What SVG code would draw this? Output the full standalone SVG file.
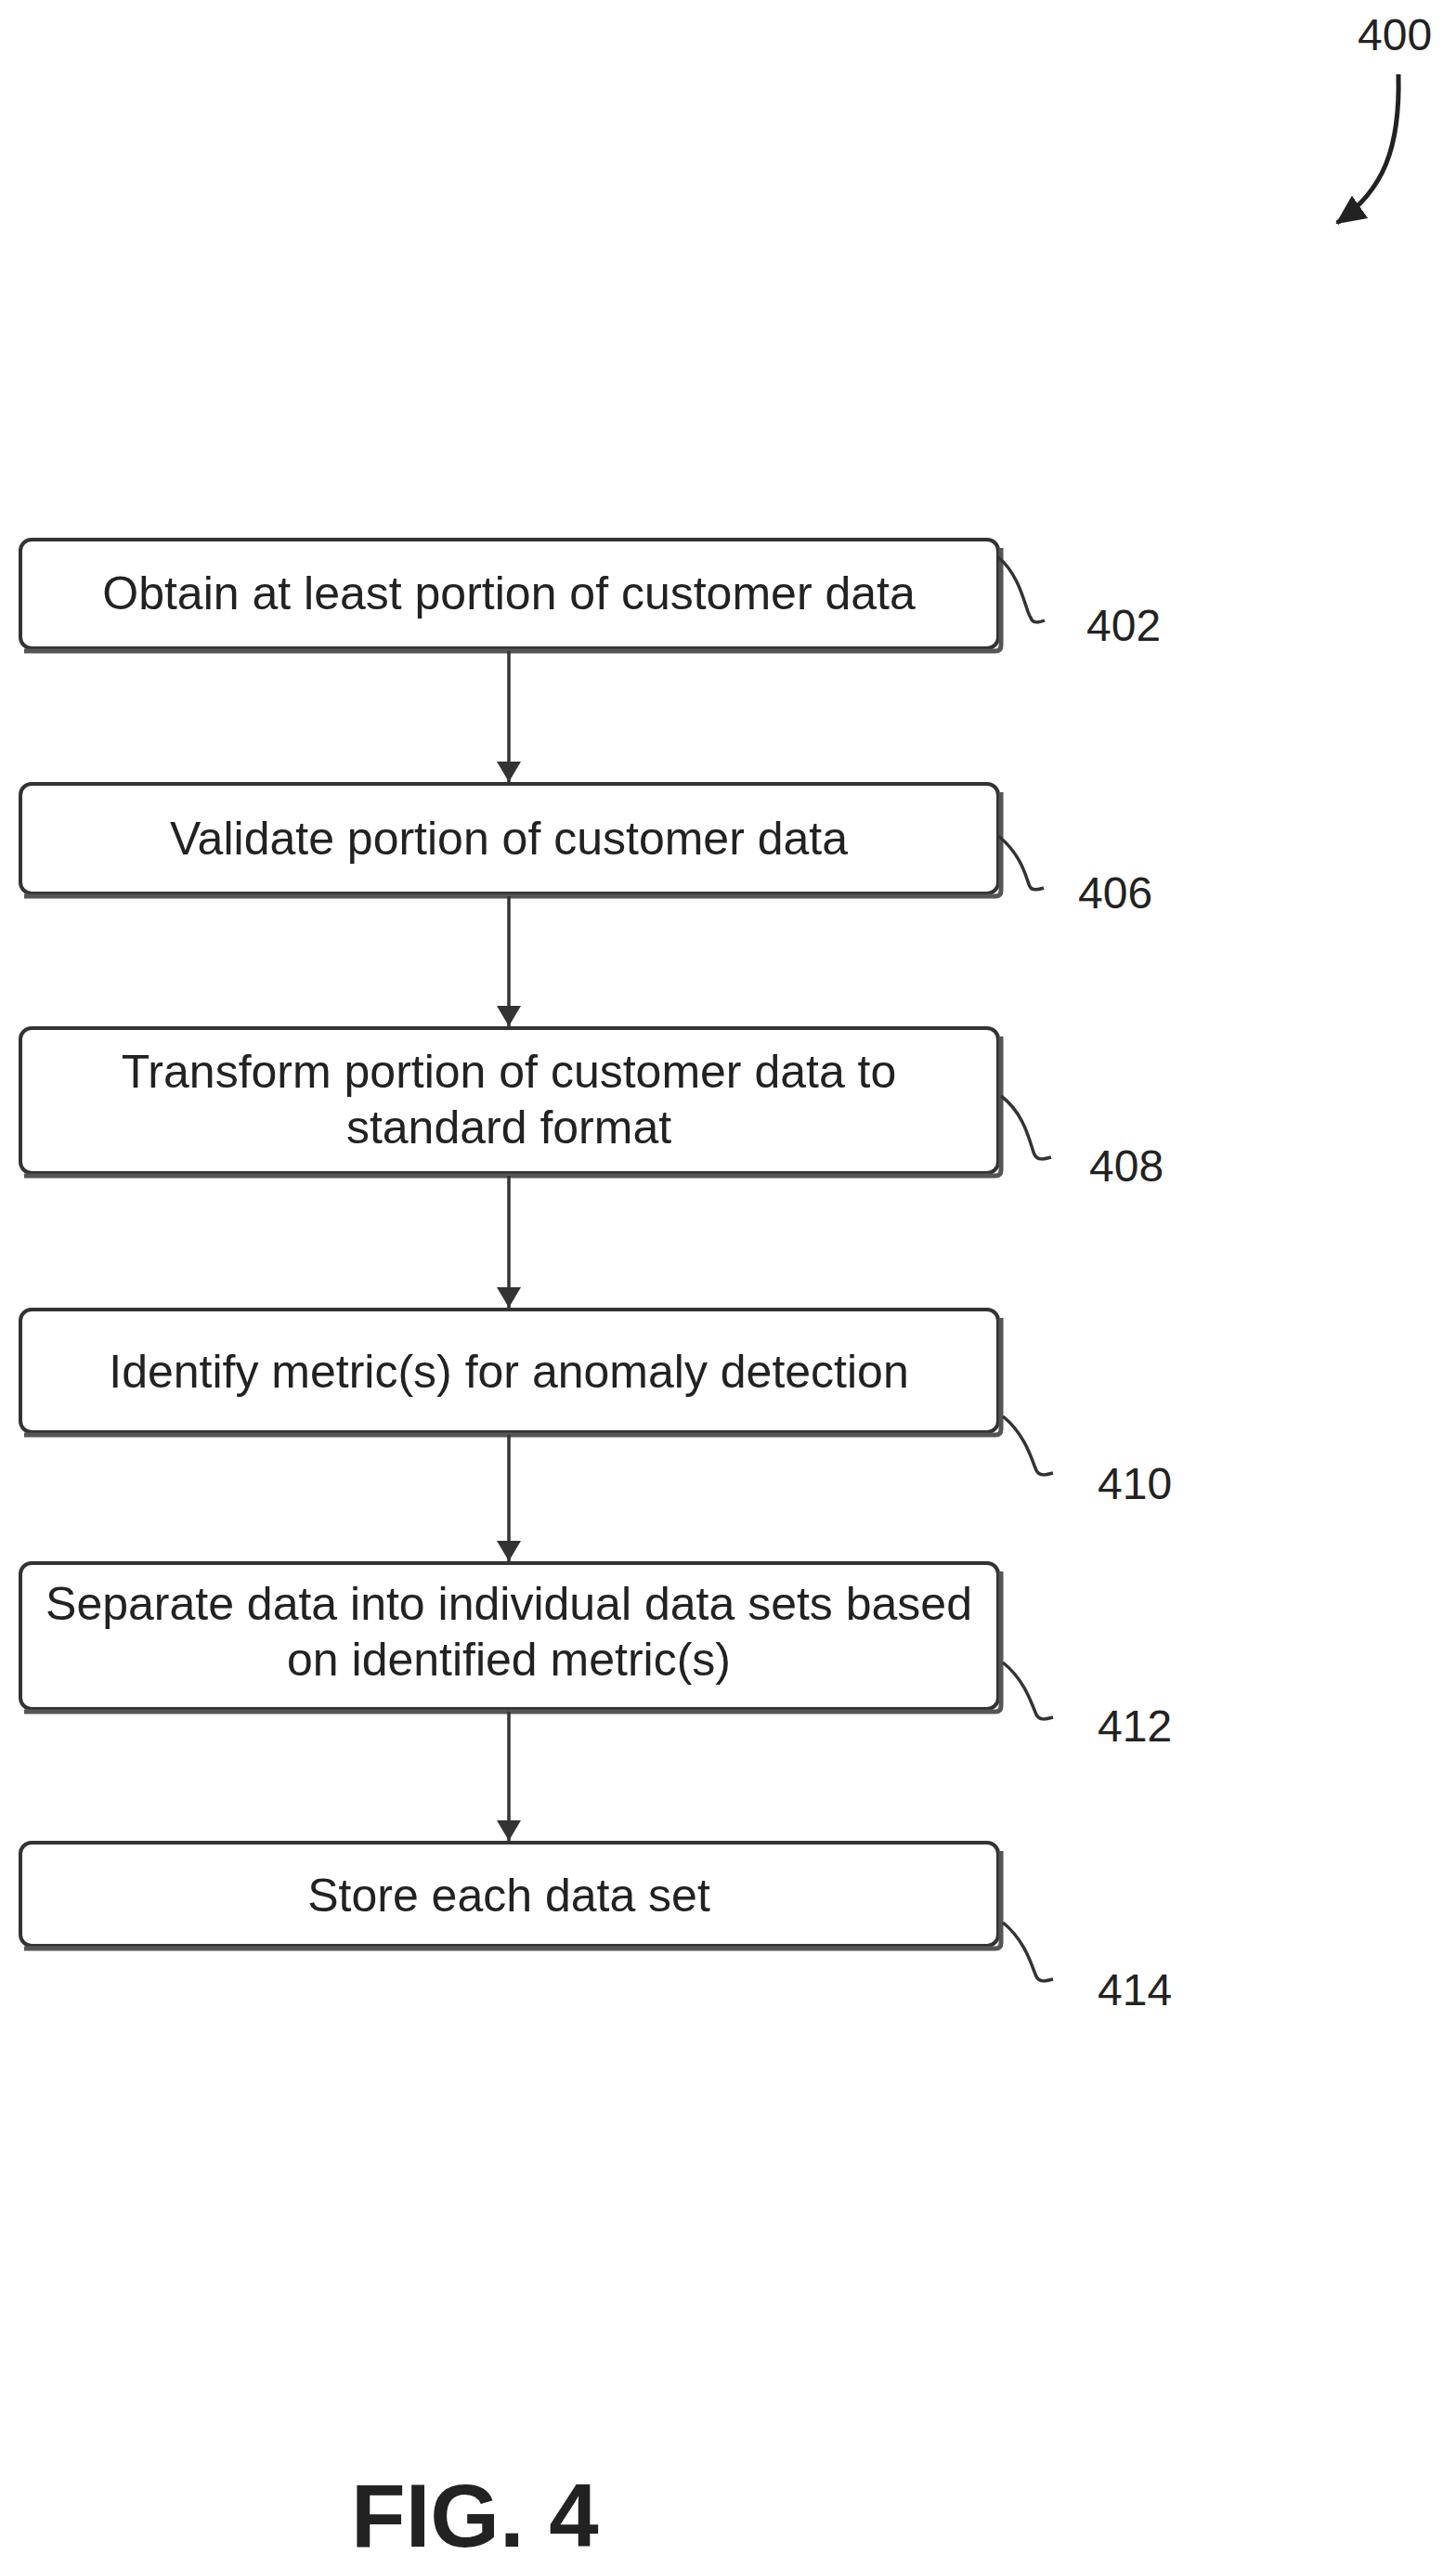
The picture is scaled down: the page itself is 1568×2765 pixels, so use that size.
<svg xmlns="http://www.w3.org/2000/svg" width="1568" height="2765" viewBox="0 0 1568 2765">
<style>
.box{fill:#fff;stroke:#333;stroke-width:4}
.sh{fill:none;stroke:#555;stroke-width:5}
.t{font-family:"Liberation Sans",Arial,sans-serif;font-size:50px;fill:#222;text-anchor:middle}
.n{font-family:"Liberation Sans",Arial,sans-serif;font-size:48px;fill:#222}
.ld{fill:none;stroke:#333;stroke-width:3.5}
.c{stroke:#333;stroke-width:3.5;fill:none;marker-end:url(#ah)}
</style>
<defs>
<marker id="ah" markerWidth="22" markerHeight="26" refX="22" refY="13" orient="auto" markerUnits="userSpaceOnUse"><path d="M0,0 L22,13 L0,26 Z" fill="#333"/></marker>
<marker id="ah2" markerWidth="36" markerHeight="30" refX="30" refY="15" orient="auto" markerUnits="userSpaceOnUse"><path d="M0,0 L32,15 L0,30 Z" fill="#222"/></marker>
</defs>
<g id="ref400">
<text class="n" x="1462" y="54">400</text>
<path d="M1506,80 C1508,160 1490,205 1440,240" fill="none" stroke="#222" stroke-width="5" marker-end="url(#ah2)"/>
</g>
<g id="n402">
<rect class="box" x="22" y="581" width="1053" height="117" rx="12"/>
<path class="sh" d="M26,701 H1072 Q1078,701 1078,695 V590"/>
<text class="t" x="548" y="656">Obtain at least portion of customer data</text>
<path class="ld" d="M1075,600 C1100,620 1105,660 1110,665 C1112,672 1120,670 1125,668"/>
<text class="n" x="1170" y="690">402</text>
</g>
<g id="n406">
<rect class="box" x="22" y="844" width="1053" height="118" rx="12"/>
<path class="sh" d="M26,965 H1072 Q1078,965 1078,959 V853"/>
<text class="t" x="548" y="920">Validate portion of customer data</text>
<path class="ld" d="M1075,900 C1100,920 1105,945 1108,952 C1110,960 1118,958 1124,956"/>
<text class="n" x="1161" y="978">406</text>
</g>
<g id="n408">
<rect class="box" x="22" y="1107" width="1053" height="156" rx="12"/>
<path class="sh" d="M26,1266 H1072 Q1078,1266 1078,1260 V1116"/>
<text class="t" x="548" y="1171">Transform portion of customer data to</text>
<text class="t" x="548" y="1231">standard format</text>
<path class="ld" d="M1078,1180 C1105,1200 1110,1235 1114,1243 C1117,1250 1125,1248 1132,1246"/>
<text class="n" x="1173" y="1272">408</text>
</g>
<g id="n410">
<rect class="box" x="22" y="1410" width="1053" height="132" rx="12"/>
<path class="sh" d="M26,1545 H1072 Q1078,1545 1078,1539 V1419"/>
<text class="t" x="548" y="1494">Identify metric(s) for anomaly detection</text>
<path class="ld" d="M1080,1525 C1105,1545 1112,1575 1116,1583 C1119,1590 1127,1588 1134,1586"/>
<text class="n" x="1182" y="1614">410</text>
</g>
<g id="n412">
<rect class="box" x="22" y="1683" width="1053" height="157" rx="12"/>
<path class="sh" d="M26,1843 H1072 Q1078,1843 1078,1837 V1692"/>
<text class="t" x="548" y="1744">Separate data into individual data sets based</text>
<text class="t" x="548" y="1804">on identified metric(s)</text>
<path class="ld" d="M1080,1790 C1105,1810 1112,1838 1116,1846 C1119,1853 1127,1851 1134,1849"/>
<text class="n" x="1182" y="1875">412</text>
</g>
<g id="n414">
<rect class="box" x="22" y="1984" width="1053" height="111" rx="12"/>
<path class="sh" d="M26,2098 H1072 Q1078,2098 1078,2092 V1993"/>
<text class="t" x="548" y="2058">Store each data set</text>
<path class="ld" d="M1080,2070 C1105,2090 1112,2120 1116,2128 C1119,2135 1127,2133 1134,2131"/>
<text class="n" x="1182" y="2159">414</text>
</g>
<g id="connectors">
<path class="c" d="M548,701 V842"/>
<path class="c" d="M548,965 V1105"/>
<path class="c" d="M548,1266 V1408"/>
<path class="c" d="M548,1545 V1681"/>
<path class="c" d="M548,1843 V1982"/>
</g>
<text x="378" y="2742" style="font-family:'Liberation Sans',Arial,sans-serif;font-size:96px;font-weight:bold;fill:#222">FIG. 4</text>
</svg>
